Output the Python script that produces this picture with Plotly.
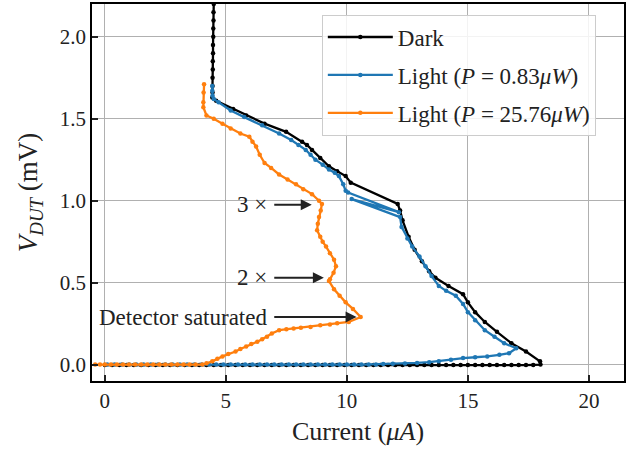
import plotly.graph_objects as go

# ---- data ----
dark_x = [4.50, 4.49, 4.49, 4.48, 4.48, 4.47, 4.47, 4.46, 4.46, 4.45, 4.45, 4.45, 4.44,
          4.6, 5.3, 5.84, 6.6, 7.49, 8.15, 8.35, 8.56, 8.9, 9.26, 9.6, 9.95, 10.16,
          12.1, 12.2, 12.3, 12.55, 12.8, 13.1, 13.4, 13.66, 14.2, 14.8, 15.0, 15.3, 15.7,
          16.2, 16.8, 17.4, 17.98, 18.0,
          17.7, 17.4, 17.1, 16.8, 16.5, 16.2, 15.9, 15.6, 15.3, 15.0, 14.7, 14.4, 14.1,
          13.8, 13.5, 13.2, 12.9, 12.6, 12.3, 12.0, 11.7, 11.4, 11.1, 10.8, 10.5, 10.2,
          9.9, 9.6, 9.3, 9.0, 8.7, 8.4, 8.1, 7.8, 7.5, 7.2, 6.9, 6.6, 6.3, 6.0, 5.7, 5.4,
          5.1, 4.8, 4.5, 4.2, 3.9, 3.6, 3.3, 3.0, 2.7, 2.4, 2.1, 1.8, 1.5, 1.2, 0.9, 0.6,
          0.3, 0.0]
dark_y = [2.20, 2.15, 2.10, 2.05, 2.00, 1.95, 1.90, 1.85, 1.80, 1.75, 1.70, 1.66, 1.63,
          1.61, 1.56, 1.52, 1.47, 1.42, 1.36, 1.34, 1.31, 1.26, 1.21, 1.18, 1.15, 1.11,
          0.98, 0.94, 0.88, 0.78, 0.70, 0.63, 0.57, 0.53, 0.48, 0.43, 0.38, 0.32, 0.26,
          0.20, 0.13, 0.08, 0.02, 0.0,
          -0.003, -0.003, -0.003, -0.003, -0.003, -0.003, -0.003, -0.003, -0.003, -0.003,
          -0.003, -0.003, -0.003, -0.003, -0.003, -0.003, -0.003, -0.003, -0.003, -0.003,
          -0.003, -0.003, -0.003, -0.003, -0.003, -0.003, -0.003, -0.003, -0.003, -0.003,
          -0.003, -0.003, -0.003, -0.003, -0.003, -0.003, -0.003, -0.003, -0.003, -0.003,
          -0.003, -0.003, -0.003, -0.003, -0.003, -0.003, -0.003, -0.003, -0.003, -0.003,
          -0.003, -0.003, -0.003, -0.003, -0.003, -0.003, -0.003, -0.003, -0.003, -0.003]

low_x = [4.44, 4.44, 4.45, 4.5, 4.7, 5.2, 5.76, 6.5, 7.2, 7.7, 8.0, 8.3, 8.5, 8.7, 9.0,
         9.26, 9.5, 9.67, 9.85, 9.95, 10.05, 12.15, 10.2, 12.2, 12.26, 12.5, 12.7, 13.0,
         13.25, 13.5, 13.8, 14.1, 14.5, 14.8, 15.0, 15.3, 15.7, 16.1, 16.5, 17.0, 16.7,
         16.3, 15.8, 15.3, 14.8, 14.3, 13.8, 13.4, 12.9, 12.4, 11.9, 11.5,
         11.2, 10.9, 10.6, 10.3, 10.0, 9.7, 9.4, 9.1, 8.8, 8.5, 8.2, 7.9, 7.6, 7.3, 7.0,
         6.7, 6.4, 6.1, 5.8, 5.5, 5.2, 4.9, 4.6, 4.3, 4.0, 3.7, 3.4, 3.1, 2.8, 2.5, 2.2,
         1.9, 1.6, 1.3, 1.0, 0.7, 0.4, 0.1]
low_y = [1.70, 1.67, 1.64, 1.62, 1.60, 1.55, 1.51, 1.46, 1.41, 1.37, 1.34, 1.31, 1.28,
         1.25, 1.22, 1.19, 1.17, 1.15, 1.10, 1.06, 1.05, 0.93, 1.01, 0.90, 0.84, 0.77,
         0.72, 0.66, 0.60, 0.54, 0.48, 0.45, 0.42, 0.37, 0.32, 0.27, 0.21, 0.17, 0.13,
         0.10, 0.07, 0.06, 0.05, 0.045, 0.04, 0.03, 0.02, 0.015, 0.01, 0.007, 0.005, 0.003,
         0.0, 0.0, 0.0, 0.0, 0.0, 0.0, 0.0, 0.0, 0.0, 0.0, 0.0, 0.0, 0.0, 0.0, 0.0,
         0.0, 0.0, 0.0, 0.0, 0.0, 0.0, 0.0, 0.0, 0.0, 0.0, 0.0, 0.0, 0.0, 0.0, 0.0, 0.0,
         0.0, 0.0, 0.0, 0.0, 0.0, 0.0, 0.0]

high_x = [4.1, 4.08, 4.07, 4.07, 4.2, 4.5, 4.86, 5.2, 5.6, 5.97, 6.1, 6.25, 6.4, 6.6,
          6.87, 7.2, 7.55, 7.9, 8.2, 8.56, 8.85, 8.97, 8.92, 8.85, 8.8, 8.77, 8.9, 9.0,
          9.14, 9.3, 9.47, 9.55, 9.45, 9.3, 9.26, 9.47, 9.7, 9.95, 10.25, 10.57, 10.08,
          9.6, 9.3, 8.9, 8.5, 8.1, 7.8, 7.5, 7.2, 6.9, 6.7, 6.5, 6.3, 6.05, 5.84, 5.6,
          5.4, 5.1, 4.86, 4.65, 4.44, 4.2, 4.03,
          3.75, 3.5, 3.25, 3.0, 2.75, 2.5, 2.25, 2.0, 1.75, 1.5, 1.25, 1.0, 0.75, 0.5,
          0.25, 0.0, -0.2, -0.4]
high_y = [1.71, 1.66, 1.60, 1.57, 1.52, 1.50, 1.47, 1.44, 1.41, 1.39, 1.36, 1.33, 1.28,
          1.23, 1.20, 1.16, 1.13, 1.10, 1.07, 1.04, 1.00, 0.98, 0.94, 0.90, 0.86, 0.82,
          0.78, 0.75, 0.72, 0.68, 0.64, 0.60, 0.56, 0.52, 0.51, 0.46, 0.42, 0.38, 0.34,
          0.29, 0.26, 0.252, 0.245, 0.24, 0.23, 0.225, 0.22, 0.215, 0.21, 0.19, 0.17,
          0.155, 0.14, 0.125, 0.11, 0.095, 0.08, 0.065, 0.05, 0.035, 0.02, 0.008, 0.0,
          0.0, 0.0, 0.0, 0.0, 0.0, 0.0, 0.0, 0.0, 0.0, 0.0, 0.0, 0.0, 0.0, 0.0, 0.0,
          0.0, 0.0, 0.0]

labels = ["Dark", "Light (<i>P</i> = 0.83<i>μW</i>)", "Light (<i>P</i> = 25.76<i>μW</i>)"]
colors = ["#000000", "#1f77b4", "#ff7f0e"]

notes = ["3 ×", "2 ×", "Detector saturated"]
note_tail_x = [7.0, 7.0, 7.0]
note_head_x = [8.55, 9.05, 10.4]
note_y = [0.975, 0.53, 0.29]

FONT = "Liberation Serif"
TXT = "#222222"

fig = go.Figure()
for xs, ys, name, c in zip([dark_x, low_x, high_x], [dark_y, low_y, high_y], labels, colors):
    fig.add_trace(go.Scatter(x=xs, y=ys, mode="lines+markers", name=name,
                             legendgroup=name,
                             line=dict(color=c, width=2.3),
                             marker=dict(color=c, size=4.5)))

for t, tx, hx, yy in zip(notes, note_tail_x, note_head_x, note_y):
    fig.add_annotation(x=hx, y=yy, ax=tx, ay=yy, xref="x", yref="y", axref="x", ayref="y",
                       text=t, showarrow=True, arrowhead=2, arrowsize=1.1, arrowwidth=2,
                       arrowcolor=TXT, standoff=0, startstandoff=0,
                       xanchor="right", yanchor="middle", borderpad=6,
                       font=dict(family=FONT, size=23, color=TXT))

axis_common = dict(showgrid=True, gridcolor="#b0b0b0", gridwidth=1.3,
                   showline=True, linecolor="black", linewidth=1.5, mirror=True,
                   ticks="inside", ticklen=6, tickwidth=1.5, tickcolor=TXT,
                   zeroline=False, tickfont=dict(family=FONT, size=21, color=TXT))

fig.update_xaxes(range=[-0.53, 21.45], tickvals=[0, 5, 10, 15, 20],
                 title=dict(text="Current (<i>μA</i>)", font=dict(family=FONT, size=26, color=TXT),
                            standoff=10),
                 **axis_common)
fig.update_yaxes(range=[-0.1, 2.2], tickvals=[0, 0.5, 1.0, 1.5, 2.0], tickformat=".1f",
                 title=dict(text="<i>V</i><sub><i>DUT</i></sub> (mV)",
                            font=dict(family=FONT, size=27, color=TXT), standoff=14),
                 **axis_common)

fig.update_layout(
    width=628, height=449,
    margin=dict(l=92, r=2, t=4, b=68),
    plot_bgcolor="white", paper_bgcolor="white",
    showlegend=True,
    legend=dict(x=0.432, y=0.972, xanchor="left", yanchor="top",
                bgcolor="rgba(255,255,255,0.85)", bordercolor="#cccccc", borderwidth=1,
                font=dict(family=FONT, size=23, color=TXT),
                tracegroupgap=5, itemwidth=65),
)

fig.write_html("out.html", config={"displayModeBar": False},
               post_script="document.body.style.margin='0';document.body.style.overflow='hidden';")
